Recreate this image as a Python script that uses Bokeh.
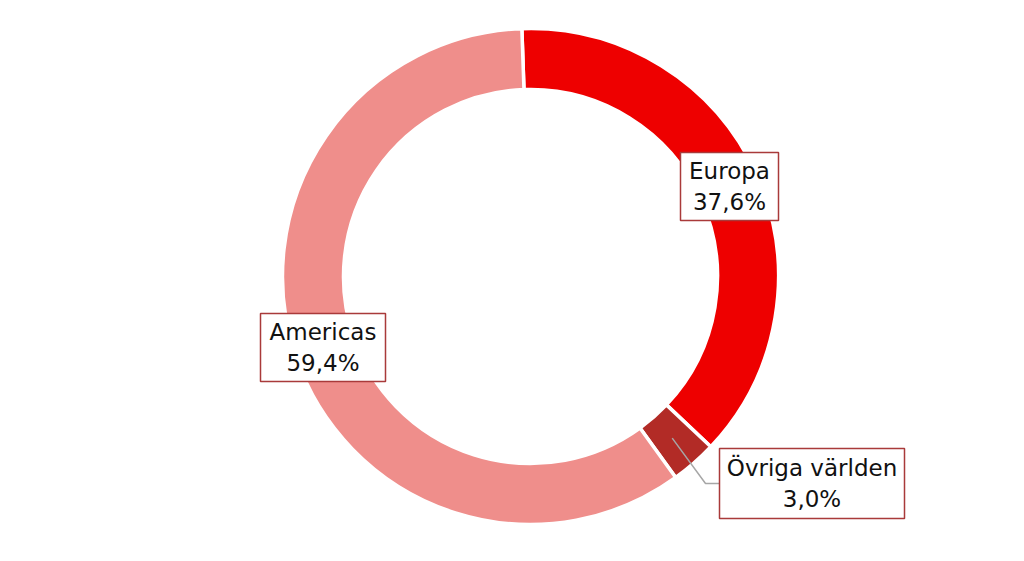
import numpy as np
from bokeh.plotting import figure
from bokeh.models import ColumnDataSource, Range1d
from bokeh.embed import file_html
from bokeh.resources import INLINE
from bokeh.core.properties import value

regions = ["Europa", "Övriga världen", "Americas"]
shares = [37.6, 3.0, 59.4]
share_labels = ["37,6%", "3,0%", "59,4%"]
colors = ["#EE0000", "#B22B26", "#EF8E8B"]

W, H = 1008, 545
p = figure(width=W, height=H, x_range=Range1d(0, W), y_range=Range1d(0, H),
           output_backend="svg", toolbar_location=None, min_border=0)
p.axis.visible = False
p.grid.visible = False
p.outline_line_color = None
p.background_fill_color = "white"

cx, cy = 530, 269
r_out, r_in = 248, 187
rot = np.deg2rad(2.0)
frac = np.array(shares) / sum(shares)
cum = np.concatenate([[0], np.cumsum(frac)])
start = np.pi / 2 + rot - cum[:-1] * 2 * np.pi
end = np.pi / 2 + rot - cum[1:] * 2 * np.pi

src = ColumnDataSource(dict(start=start, end=end, color=colors, region=regions))
p.annular_wedge(x=cx, y=cy, inner_radius=r_in, outer_radius=r_out,
                start_angle="start", end_angle="end", direction="clock",
                fill_color="color", line_color="white", line_width=3.5, source=src)

# label boxes (layout)
box_x = [729, 811.5, 322.5]
box_y = [359, 62, 198]
box_w = [98, 185, 125]
box_h = [68, 70, 68]

# leader line for small slice
mid = (start[1] + end[1]) / 2
lx0 = cx + 215 * np.cos(mid)
ly0 = cy + 215 * np.sin(mid)
p.line(x=[lx0, 705, box_x[1] - box_w[1] / 2], y=[ly0, box_y[1], box_y[1]],
       line_color="#A6A6A6", line_width=1.5)

p.rect(x=box_x, y=box_y, width=box_w, height=box_h, fill_color="white",
       line_color="#A93A3A", line_width=1.5)

p.text(x=box_x, y=[y + 16 for y in box_y], text=regions,
       text_font=value("DejaVu Sans"), text_font_size="23px",
       text_align="center", text_baseline="middle", text_color="#111111")
p.text(x=box_x, y=[y - 15 for y in box_y], text=share_labels,
       text_font=value("DejaVu Sans"), text_font_size="23px",
       text_align="center", text_baseline="middle", text_color="#111111")

open("out.html", "w").write(file_html(p, INLINE))
